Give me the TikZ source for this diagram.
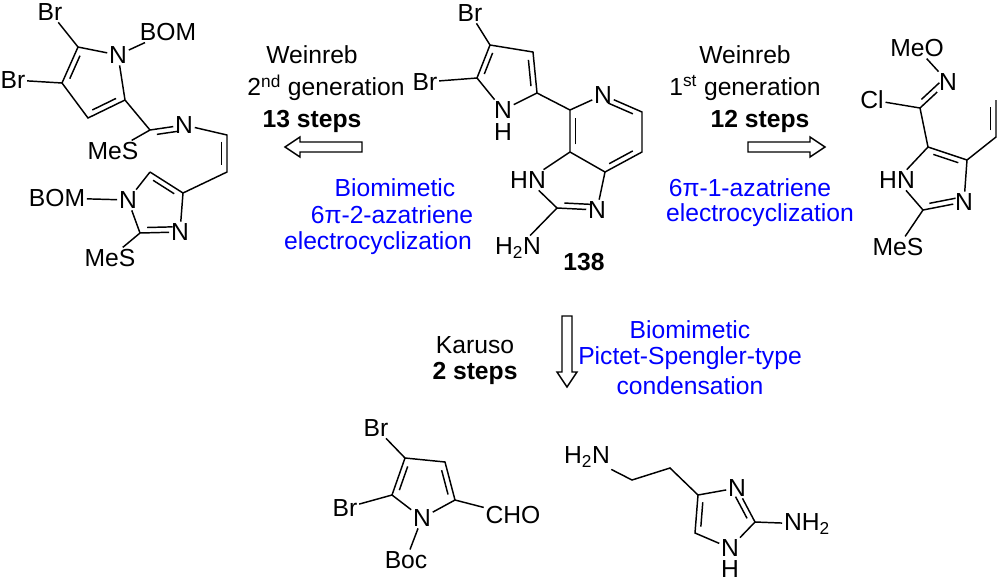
\documentclass[tikz,border=0pt]{standalone}
\usepackage{fontspec}
\setmainfont{Liberation Sans}
\usetikzlibrary{calc}
\newcommand\dbl[3]{\draw[bond] ($(#1)!.18!(#2)!#3!90:(#2)$) -- ($(#2)!.18!(#1)!#3!-90:(#1)$);}
\begin{document}
\begin{tikzpicture}[x=0.75pt,y=-0.75pt,
  bond/.style={line width=1.1pt},
  atm/.style={inner sep=1.2pt,font=\fontsize{18.5}{20}\selectfont},
  lbl/.style={inner sep=0pt,font=\fontsize{18.5}{20}\selectfont},
  blu/.style={lbl,text=blue},
  harrow/.style={line width=1.1pt,fill=white,line join=miter}]
\useasboundingbox (0,0) rectangle (1000,583);
% ---------- central molecule 138
\coordinate (a4) at (490,45); \coordinate (a3) at (533,52); \coordinate (a2) at (537,93);
\coordinate (a5) at (477,78);
\node[atm] (aN1) at (503,110) {N}; \node[lbl] (aH1) at (503,132) {H};
\node[atm] (aBr1) at (470,13) {Br}; \node[atm] (aBr2) at (425,82) {Br};
\coordinate (p4) at (570,110); \node[atm] (pN) at (603,95) {N};
\coordinate (p6) at (642,112); \coordinate (p7) at (642,152);
\coordinate (p7a) at (605,172); \coordinate (p3a) at (570,152);
\node[atm] (iN3) at (597,210) {N}; \coordinate (i2) at (557,208);
\node[atm] (iN1) at (528,180) {HN};
\node[atm] (iNH2) at (518,248) {H\textsubscript{2}N};
\node[lbl,font=\fontsize{18.5}{20}\selectfont\bfseries] (n138) at (584,262) {138};
\draw[bond] (a4)--(a3)--(a2)--(aN1)--(a5)--(a4);
\dbl{a5}{a4}{-4pt} \dbl{a3}{a2}{-4pt}
\draw[bond] (a4)--(aBr1); \draw[bond] (a5)--(aBr2); \draw[bond] (a2)--(p4);
\draw[bond] (p4)--(pN)--(p6)--(p7)--(p7a)--(p3a)--(p4);
\dbl{p3a}{p4}{-4pt} \dbl{pN}{p6}{-4pt} \dbl{p7}{p7a}{-4pt}
\draw[bond] (p7a)--(iN3)--(i2)--(iN1)--(p3a);
\dbl{iN3}{i2}{-4pt}
\draw[bond] (i2)--(iNH2);
% ---------- left molecule
\coordinate (b5) at (78,47); \node[atm] (bN1) at (118,55) {N}; \coordinate (b2) at (125,100);
\coordinate (b3) at (88,118); \coordinate (b4) at (62,83);
\node[atm] (bBr1) at (50,12) {Br}; \node[atm] (bBr2) at (13,80) {Br};
\node[atm] (bBOM1) at (168,32) {BOM};
\coordinate (bC) at (150,130); \node[atm] (bN) at (184,125) {N};
\node[atm] (bMeS1) at (113,151) {MeS};
\coordinate (v1) at (227,135); \coordinate (v2) at (227,172);
\coordinate (c5) at (150,172); \coordinate (c4) at (183,193);
\node[atm] (cN3) at (180,232) {N}; \coordinate (c2) at (140,233);
\node[atm] (cN1) at (128,200) {N};
\node[atm] (cBOM) at (57,198) {BOM}; \node[atm] (cMeS) at (110,258) {MeS};
\draw[bond] (b5)--(bN1)--(b2)--(b3)--(b4)--(b5);
\dbl{b4}{b5}{-4pt} \dbl{b2}{b3}{-4pt}
\draw[bond] (b5)--(bBr1); \draw[bond] (b4)--(bBr2); \draw[bond] (bN1)--(bBOM1);
\draw[bond] (b2)--(bC)--(bN); \dbl{bC}{bN}{-4pt}
\draw[bond] (bC)--(bMeS1);
\draw[bond] (bN)--(v1)--(v2)--(c4); \dbl{v1}{v2}{-4pt}
\draw[bond] (c5)--(c4)--(cN3)--(c2)--(cN1)--(c5);
\dbl{c5}{c4}{-4pt} \dbl{cN3}{c2}{-4pt}
\draw[bond] (cN1)--(cBOM); \draw[bond] (c2)--(cMeS);
% ---------- right molecule
\node[atm] (rMeO) at (917,48) {MeO}; \node[atm] (rN) at (948,82) {N};
\coordinate (rC) at (920,108); \node[atm] (rCl) at (872,100) {Cl};
\coordinate (r5) at (928,147); \coordinate (r4) at (967,160);
\node[atm] (rN3) at (964,202) {N}; \coordinate (r2) at (923,210);
\node[atm] (rN1) at (897,180) {HN}; \node[atm] (rMeS) at (898,247) {MeS};
\coordinate (w1) at (996,137); \coordinate (w2) at (996,100);
\draw[bond] (rMeO)--(rN)--(rC)--(rCl); \dbl{rN}{rC}{-4pt}
\draw[bond] (rC)--(r5);
\draw[bond] (r5)--(r4)--(rN3)--(r2)--(rN1)--(r5);
\dbl{r5}{r4}{-4pt} \dbl{rN3}{r2}{-4pt}
\draw[bond] (r2)--(rMeS); \draw[bond] (r4)--(w1)--(w2); \dbl{w1}{w2}{4pt}
% ---------- bottom left
\coordinate (d4) at (405,458); \coordinate (d3) at (445,462); \coordinate (d2) at (455,500);
\node[atm] (dN) at (422,518) {N}; \coordinate (d5) at (392,495);
\node[atm] (dBr1) at (376,428) {Br}; \node[atm] (dBr2) at (345,508) {Br};
\node[atm] (dCHO) at (513,515) {CHO}; \node[atm] (dBoc) at (406,560) {Boc};
\draw[bond] (d4)--(d3)--(d2)--(dN)--(d5)--(d4);
\dbl{d5}{d4}{-4pt} \dbl{d3}{d2}{-4pt}
\draw[bond] (d4)--(dBr1); \draw[bond] (d5)--(dBr2); \draw[bond] (d2)--(dCHO); \draw[bond] (dN)--(dBoc);
% ---------- bottom right
\node[atm] (eNH2a) at (587,457) {H\textsubscript{2}N};
\coordinate (e1) at (632,480); \coordinate (e2) at (670,468);
\coordinate (e4) at (698,495); \node[atm] (eN3) at (737,488) {N};
\coordinate (e2c) at (755,522); \node[atm] (eN1) at (730,548) {N};
\node[lbl] (eH) at (730,569) {H}; \coordinate (e5) at (695,533);
\node[atm] (eNH2) at (807,524) {NH\textsubscript{2}};
\draw[bond] (eNH2a)--(e1)--(e2)--(e4);
\draw[bond] (e4)--(eN3)--(e2c)--(eN1)--(e5)--(e4);
\dbl{eN3}{e2c}{-4pt} \dbl{e5}{e4}{-4pt}
\draw[bond] (e2c)--(eNH2);
% ---------- arrows
\draw[harrow] (362,142)--(300,142)--(300,137)--(285,147)--(300,157)--(300,152)--(362,152)--cycle;
\draw[harrow] (748,142)--(810,142)--(810,137)--(825,147)--(810,157)--(810,152)--(748,152)--cycle;
\draw[harrow] (562,316)--(562,372)--(557,372)--(567,387)--(577,372)--(572,372)--(572,316)--cycle;
% ---------- texts
\node[lbl] (t1) at (312,55) {Weinreb};
\node[lbl] (t2) at (326,88) {2\textsuperscript{nd} generation};
\node[lbl,font=\fontsize{18.5}{20}\selectfont\bfseries] (t3) at (312,121) {13 steps};
\node[blu] (t4) at (395,188) {Biomimetic};
\node[blu] (t5) at (392,215) {6π-2-azatriene};
\node[blu] (t6) at (378,243) {electrocyclization};
\node[lbl] (u1) at (745,55) {Weinreb};
\node[lbl] (u2) at (745,88) {1\textsuperscript{st} generation};
\node[lbl,font=\fontsize{18.5}{20}\selectfont\bfseries] (u3) at (760,121) {12 steps};
\node[blu] (u4) at (750,188) {6π-1-azatriene};
\node[blu] (u5) at (760,215) {electrocyclization};
\node[lbl] (k1) at (475,345) {Karuso};
\node[lbl,font=\fontsize{18.5}{20}\selectfont\bfseries] (k2) at (475,373) {2 steps};
\node[blu] (k3) at (690,330) {Biomimetic};
\node[blu] (k4) at (690,358) {Pictet-Spengler-type};
\node[blu] (k5) at (690,386) {condensation};
\end{tikzpicture}
\end{document}
